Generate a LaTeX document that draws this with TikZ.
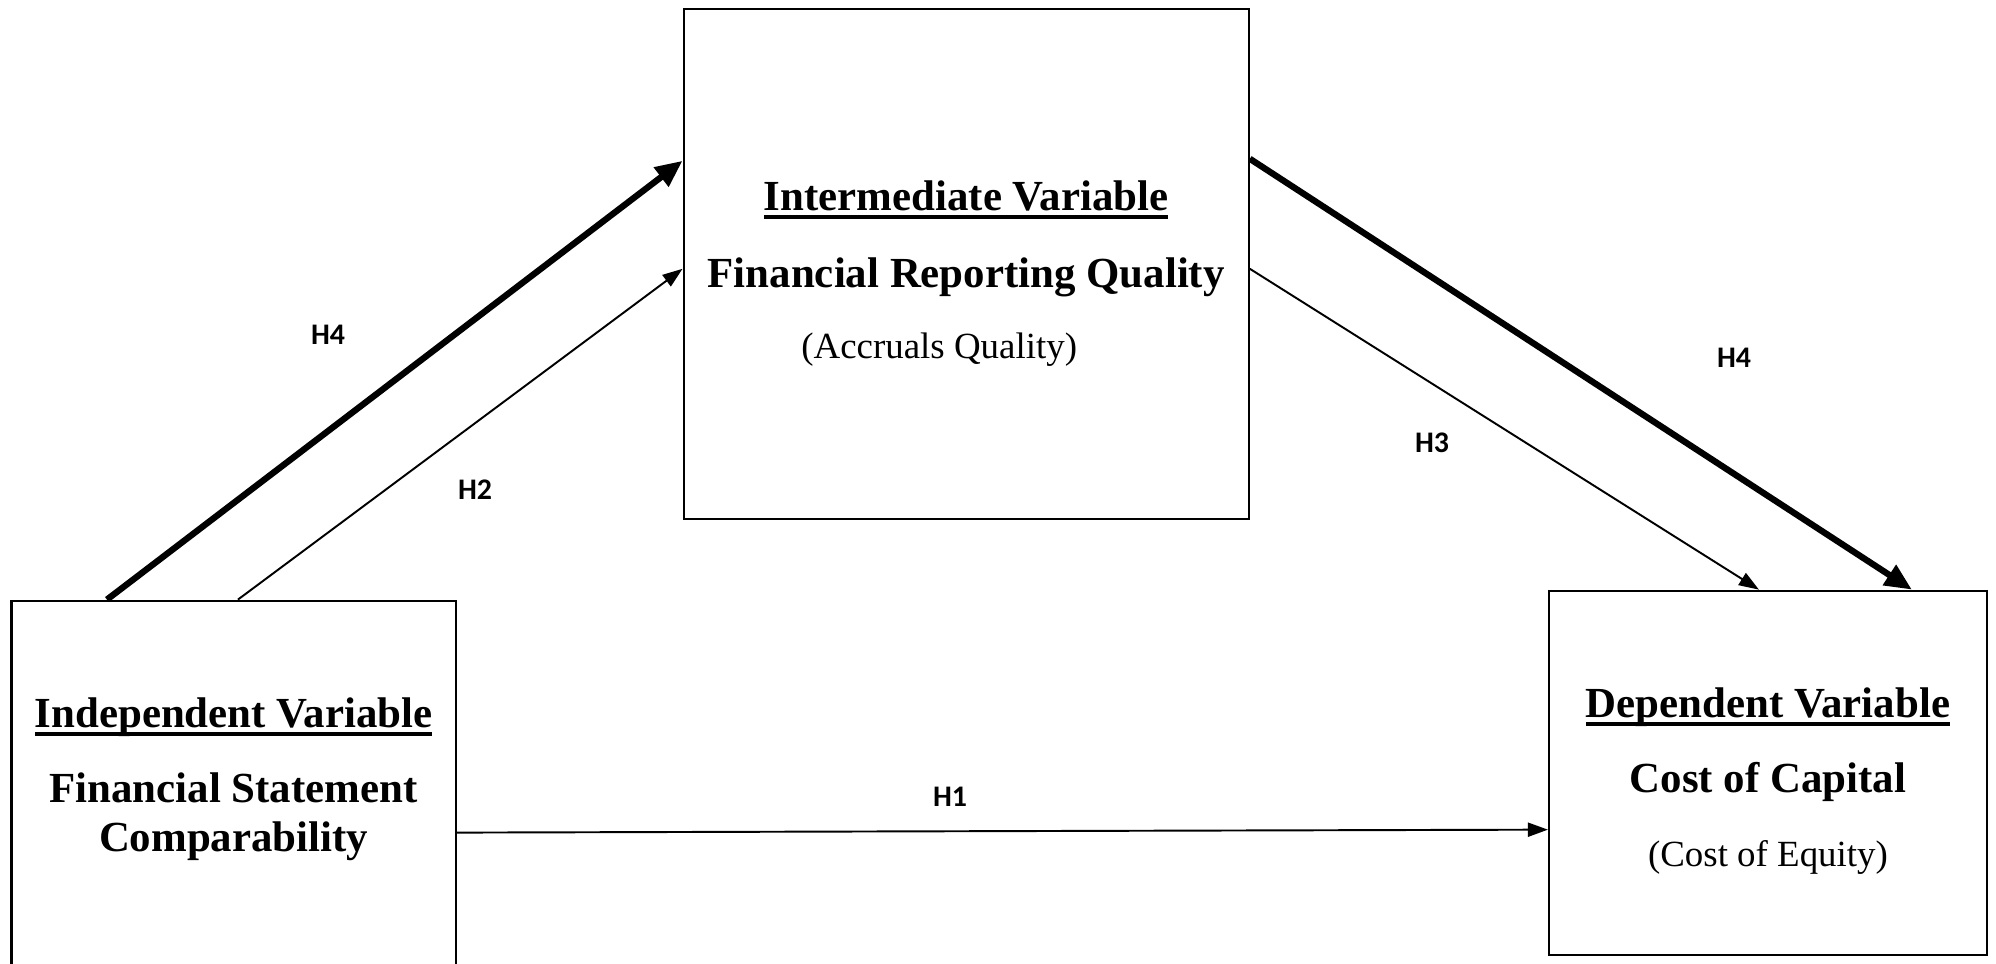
\documentclass[tikz,border=0pt]{standalone}
\usepackage{fontspec}
\setmainfont{Liberation Serif}
\newfontfamily\hypfont{Carlito}
\usepackage{tikz}
\usetikzlibrary{positioning, arrows.meta, calc}
\usepackage{xcolor}
\tikzset{
  % plain box around one variable
  varbox/.style={draw=black, line width=0.6pt, inner sep=0pt},
  % text block inside a box
  vartext/.style={align=center, inner sep=0pt,
                  font=\fontsize{12.2}{14}\selectfont},
  % hypothesis label
  hyplabel/.style={font=\hypfont\bfseries\fontsize{8.5}{10}\selectfont},
  % direct path
  thinarrow/.style={-{Triangle[length=0.2cm, width=0.14cm]},
                    line width=0.55pt},
  % mediated path (H4)
  thickarrow/.style={-{Triangle[length=0.27cm, width=0.23cm]},
                     line width=1.8pt},
}
% bold heading with a heavy underline
\newcommand{\vartitle}[1]{\textbf{\setbox0\hbox{#1}%
  \rlap{\rule[-2.4pt]{\wd0}{1.15pt}}\box0}}

\begin{document}
\begin{tikzpicture}
  \useasboundingbox (0,0) rectangle (19.96,9.63);
  \clip (0,0) rectangle (19.96,9.63);
  % boxes
  \node[varbox, minimum width=5.652cm, minimum height=5.105cm]
    (inter) at (9.662,6.989) {};
  \node[varbox, minimum width=4.442cm, minimum height=4.2cm, anchor=north]
    (indep) at (2.336,3.634) {};
  \node[varbox, minimum width=4.38cm, minimum height=3.641cm]
    (dep) at (17.68,1.9025) {};
  % box texts
  \node[vartext] (intertext) at (9.662,6.89)
    {\vartitle{Intermediate Variable}\\[7.9pt]
     \textbf{Financial Reporting Quality}\\[6.2pt]
     {\fontsize{10.5}{14}\selectfont (Accruals Quality)\hspace*{0.54cm}}};
  \node[vartext] (indeptext) at (2.336,1.84)
    {\vartitle{Independent Variable}\\[7.3pt]
     \textbf{Financial Statement}\\
     \textbf{Comparability}};
  \node[vartext] (deptext) at (17.68,1.82)
    {\vartitle{Dependent Variable}\\[7.3pt]
     \textbf{Cost of Capital}\\[7pt]
     {\fontsize{10.5}{14}\selectfont (Cost of Equity)}};
  % paths
  \draw[thickarrow] ([xshift=0.965cm]indep.north west)
    -- ([yshift=-1.53cm]inter.north west);
  \draw[thinarrow] ([xshift=2.275cm]indep.north west)
    -- ([yshift=-2.61cm]inter.north west);
  \draw[thinarrow] ([yshift=-2.61cm]inter.north east)
    -- ([xshift=2.11cm]dep.north west);
  \draw[thickarrow] ([yshift=-1.51cm]inter.north east)
    -- ([xshift=3.64cm]dep.north west);
  \draw[thinarrow] ([yshift=-2.33cm]indep.north east)
    -- ([yshift=-2.40cm]dep.north west);
  % hypothesis labels
  \node[hyplabel] (h4a) at (3.28,6.28)  {H4};
  \node[hyplabel] (h2)  at (4.75,4.73)  {H2};
  \node[hyplabel] (h1)  at (9.50,1.66)  {H1};
  \node[hyplabel] (h3)  at (14.32,5.20) {H3};
  \node[hyplabel] (h4b) at (17.34,6.05) {H4};
\end{tikzpicture}
\end{document}
